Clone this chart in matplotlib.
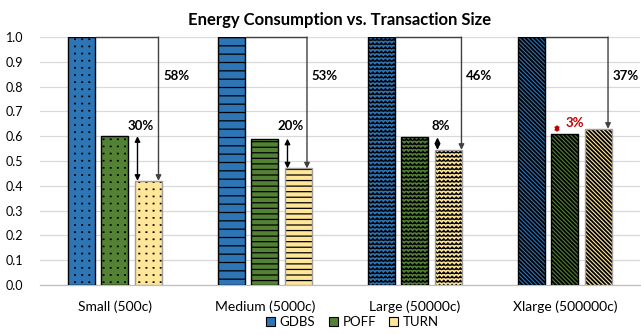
import warnings
import numpy as np
import matplotlib
matplotlib.use("Agg")
import matplotlib.pyplot as plt
import matplotlib.hatch as mhatch
from matplotlib.path import Path
from matplotlib.patches import Patch

warnings.filterwarnings("ignore")

categories = ["Small (500c)", "Medium (5000c)", "Large (50000c)", "Xlarge (500000c)"]
series = ["GDBS", "POFF", "TURN"]
gdbs = [1.0, 1.0, 1.0, 1.0]
poff = [0.60, 0.59, 0.595, 0.61]
turn = [0.42, 0.47, 0.545, 0.63]
total_saving = ["58%", "53%", "46%", "37%"]
poff_turn_gap = ["30%", "20%", "8%", "3%"]


class ZigZagHatch(mhatch.HatchPatternBase):
    """Rows of zig-zag lines, selected with the 'z' hatch character."""

    def __init__(self, hatch, density):
        self.num_rows = hatch.count('z') * density
        self.num_vertices = self.num_rows * (2 * self.num_rows + 1)

    def set_vertices_and_codes(self, vertices, codes):
        n = self.num_rows
        m = 2 * n + 1
        xs = np.linspace(0.0, 1.0, m)
        amp = 0.5 / n
        k = 0
        for r in range(n):
            y0 = (r + 0.25) / n
            vertices[k:k + m, 0] = xs
            vertices[k:k + m, 1] = y0 + amp * (np.arange(m) % 2)
            codes[k] = Path.MOVETO
            codes[k + 1:k + m] = Path.LINETO
            k += m


class PinDotHatch(mhatch.HatchPatternBase):
    """A square grid of tiny dots, selected with the 'p' hatch character."""

    def __init__(self, hatch, density):
        self.num_rows = hatch.count('p') * (density + 1)
        self.num_vertices = 2 * self.num_rows * self.num_rows

    def set_vertices_and_codes(self, vertices, codes):
        n = self.num_rows
        c = (np.arange(n) + 0.5) / n
        gx, gy = np.meshgrid(c, c)
        gx = gx.ravel()
        gy = gy.ravel()
        d = 0.02 / n
        vertices[0::2, 0] = gx - d
        vertices[0::2, 1] = gy
        vertices[1::2, 0] = gx + d
        vertices[1::2, 1] = gy
        codes[0::2] = Path.MOVETO
        codes[1::2] = Path.LINETO


mhatch._hatch_types.extend([ZigZagHatch, PinDotHatch])

plt.rcParams['font.family'] = ['Lato', 'DejaVu Sans']
plt.rcParams['hatch.linewidth'] = 0.9

colors = {"GDBS": "#2E75B6", "POFF": "#548235", "TURN": "#FFE699"}
edge = {"GDBS": "black", "POFF": "black", "TURN": "#9E9E9E"}
diag = "\\" * 8
hatch_by_group = [
    {"GDBS": "pp", "POFF": "pp", "TURN": "pp"},
    {"GDBS": "--", "POFF": "---", "TURN": "---"},
    {"GDBS": "zzzz", "POFF": "zzzz", "TURN": "zzzz"},
    {"GDBS": diag, "POFF": diag, "TURN": diag},
]
hatch_lw = [1.2, 0.9, 0.8, 1.3]

fig = plt.figure(figsize=(6.41, 3.34), dpi=100)
ax = fig.add_axes([0.0624, 0.147, 0.936, 0.742])

x = np.arange(len(categories))
width = 0.18
step = 0.223
values = {"GDBS": gdbs, "POFF": poff, "TURN": turn}
offsets = {"GDBS": -step, "POFF": 0.0, "TURN": step}

for s in series:
    for i in range(len(categories)):
        xi = x[i] + offsets[s]
        with plt.rc_context({"hatch.linewidth": hatch_lw[i]}):
            bars = ax.bar(xi, values[s][i], width, color=colors[s],
                          edgecolor="black", linewidth=0,
                          hatch=hatch_by_group[i][s], zorder=3)
        for b in bars:
            if hasattr(b, "set_hatch_linewidth"):
                b.set_hatch_linewidth(hatch_lw[i])
        ax.bar(xi, values[s][i], width, fill=False, edgecolor=edge[s],
               linewidth=1.0, zorder=4)

arrow_col = "#404040"
bracket_off = [0.29, 0.28, 0.31, 0.287]
for i in range(len(categories)):
    xr = x[i] + bracket_off[i]
    x_gdbs_right = x[i] - step + width / 2
    # bracket from the GDBS top across to the TURN bar
    ax.plot([x_gdbs_right, xr], [gdbs[i], gdbs[i]], color=arrow_col, lw=1.0,
            zorder=5, clip_on=False, solid_capstyle="butt")
    ax.annotate("", xy=(xr, turn[i]), xytext=(xr, gdbs[i]),
                arrowprops=dict(arrowstyle="-|>", color=arrow_col, lw=1.0,
                                mutation_scale=8, shrinkA=0, shrinkB=0),
                zorder=5, annotation_clip=False)
    ax.text(xr + 0.03, 0.843, total_saving[i], fontsize=9.5, fontweight="bold",
            ha="left", va="center", zorder=6)

    if i < 3:
        xd = x[i] + 0.15
        ax.annotate("", xy=(xd, turn[i]), xytext=(xd, poff[i]),
                    arrowprops=dict(arrowstyle="<|-|>", color="black", lw=1.0,
                                    mutation_scale=8, shrinkA=0, shrinkB=0),
                    zorder=5)
        ax.text(xd + 0.02, 0.643, poff_turn_gap[i], fontsize=9.5,
                fontweight="bold", ha="center", va="center", zorder=6)
    else:
        xd = x[i] - 0.053
        ax.annotate("", xy=(xd, poff[i] + 0.005), xytext=(xd, turn[i] + 0.017),
                    arrowprops=dict(arrowstyle="<|-|>", color="#C00000", lw=1.0,
                                    mutation_scale=7, shrinkA=0, shrinkB=0),
                    zorder=5)
        ax.text(x[i] + 0.005, 0.652, poff_turn_gap[i], fontsize=9.5,
                fontweight="bold", color="#C00000", ha="left", va="center",
                zorder=6)

ax.set_xlim(-0.5, len(categories) - 0.5)
ax.set_ylim(0, 1.0)
ax.set_yticks(np.arange(0, 1.01, 0.1))
ax.set_yticklabels([f"{v:.1f}" for v in np.arange(0, 1.01, 0.1)], fontsize=9)
ax.set_xticks(x)
ax.set_xticklabels(categories, fontsize=10)
ax.tick_params(axis="both", length=0, colors="black")
ax.tick_params(axis="x", pad=11)
ax.tick_params(axis="y", pad=12)

ax.grid(axis="y", color="#D9D9D9", lw=0.9, zorder=0)
ax.set_axisbelow(True)
for sp in ["left", "right", "top"]:
    ax.spines[sp].set_visible(False)
ax.spines["bottom"].set_color("#BFBFBF")
ax.spines["bottom"].set_linewidth(0.9)

ax.set_title("Energy Consumption vs. Transaction Size", fontsize=12,
             fontweight="bold", pad=9)

handles = [Patch(facecolor=colors[s], edgecolor="black", linewidth=0.8)
           for s in series]
fig.legend(handles, series, loc="center", bbox_to_anchor=(0.55, 0.035),
           ncol=3, frameon=False, fontsize=9.5, handlelength=0.7,
           handleheight=0.7, handletextpad=0.35, columnspacing=1.0,
           borderaxespad=0)

fig.savefig("out.png", dpi=100)
